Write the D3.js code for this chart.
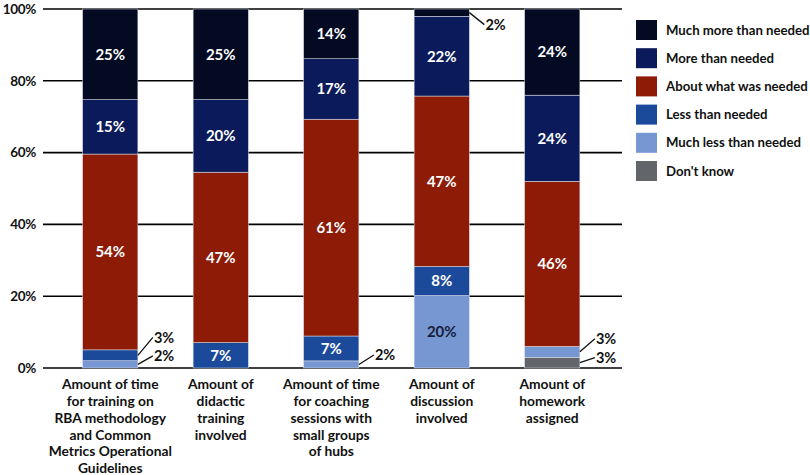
<!DOCTYPE html>
<html><head><meta charset="utf-8">
<script src="https://cdn.jsdelivr.net/npm/d3@7"></script>
<style>
body{margin:0;background:#fff;}
svg{display:block;font-family:Lato,"Open Sans",sans-serif;font-weight:700;}
</style></head>
<body>
<svg id="c" width="810" height="475"></svg>
<script>
const categories = ["time","didactic","coaching","discussion","homework"];
const categoryLabels = [
  ["Amount of time","for training on","RBA methodology","and Common","Metrics Operational","Guidelines"],
  ["Amount of","didactic","training","involved"],
  ["Amount of time","for coaching","sessions with","small groups","of hubs"],
  ["Amount of","discussion","involved"],
  ["Amount of","homework","assigned"]
];
const seriesNames = ["Don't know","Much less than needed","Less than needed","About what was needed","More than needed","Much more than needed"];
const dontKnow   = [0, 0, 0, 0, 3];
const muchLess   = [2, 0, 2, 20, 3];
const less       = [3, 7, 7, 8, 0];
const about      = [54, 47, 61, 47, 46];
const more       = [15, 20, 17, 22, 24];
const muchMore   = [25, 25, 14, 2, 24];
const yTicks = [0, 0.2, 0.4, 0.6, 0.8, 1];
const legendOrder = ["Much more than needed","More than needed","About what was needed","Less than needed","Much less than needed","Don't know"];

const colors = {
  "Don't know":"#626569",
  "Much less than needed":"#7797d2",
  "Less than needed":"#1c4a9b",
  "About what was needed":"#8d1b06",
  "More than needed":"#0b1a5a",
  "Much more than needed":"#040a22"
};
const textColors = {
  "Much less than needed":"#161d3a"
};

const seriesValues = [dontKnow, muchLess, less, about, more, muchMore];
const table = categories.map((c,i)=>{
  const o = {cat:c};
  seriesNames.forEach((s,j)=>o[s]=seriesValues[j][i]);
  return o;
});

const svg = d3.select("#c");
const x = d3.scaleBand().domain(categories).range([55, 607.5]).paddingInner(0.5).paddingOuter(0.25);
const y = d3.scaleLinear().domain([0,1]).range([368, 9]);

// gridlines
svg.append("g").selectAll("line").data(yTicks).join("line")
  .attr("x1",43).attr("x2",622)
  .attr("y1",d=>y(d)).attr("y2",d=>y(d))
  .attr("stroke","#000").attr("stroke-width",1.6);

// tick labels
svg.append("g").selectAll("text").data(yTicks).join("text")
  .attr("x",36).attr("y",d=>y(d)).attr("dy","0.35em")
  .attr("text-anchor","end").attr("font-size",13.5).attr("fill","#111")
  .attr("letter-spacing",-0.3)
  .text(d=>d3.format(".0%")(d));

const stack = d3.stack().keys(seriesNames).offset(d3.stackOffsetExpand);
const layers = stack(table);

const g = svg.append("g");
layers.forEach(layer=>{
  const key = layer.key;
  g.selectAll(null).data(layer.filter(d=>d[1]-d[0]>0)).join("rect")
    .attr("x",d=>x(d.data.cat))
    .attr("width",x.bandwidth())
    .attr("y",d=>y(d[1]))
    .attr("height",d=>y(d[0])-y(d[1]))
    .attr("fill",colors[key])
    .attr("stroke","#dfe4ee").attr("stroke-width",0.5);
});

// outside label offsets (style only)
const outsideOffset = {
  "time|Less than needed": -18,
  "time|Much less than needed": -8.5,
  "coaching|Much less than needed": -9.5,
  "discussion|Much more than needed": 12,
  "homework|Much less than needed": -13,
  "homework|Don't know": -5
};

layers.forEach(layer=>{
  const key = layer.key;
  layer.forEach(d=>{
    const v = d.data[key];
    if(!v) return;
    const cx = x(d.data.cat) + x.bandwidth()/2;
    const my = (y(d[0])+y(d[1]))/2;
    if(v >= 7){
      svg.append("text").attr("x",cx).attr("y",my).attr("dy","0.36em")
        .attr("text-anchor","middle").attr("font-size",15)
        .attr("fill",textColors[key]||"#fff")
        .text(v+"%");
    } else {
      const off = outsideOffset[d.data.cat+"|"+key] || 0;
      const x0 = x(d.data.cat)+x.bandwidth();
      const ty = my + off;
      svg.append("line").attr("x1",x0).attr("y1",my).attr("x2",x0+15).attr("y2",ty)
        .attr("stroke","#111").attr("stroke-width",1.3);
      svg.append("text").attr("x",x0+16).attr("y",ty).attr("dy","0.36em")
        .attr("font-size",14.5).attr("fill","#111").text(v+"%");
    }
  });
});

// category labels
const cl = svg.append("g");
categories.forEach((c,i)=>{
  const t = cl.append("text").attr("text-anchor","middle").attr("font-size",13.8).attr("fill","#111");
  categoryLabels[i].forEach((line,k)=>{
    t.append("tspan").attr("x",x(c)+x.bandwidth()/2).attr("y",384+k*16.9).attr("dy","0.35em").text(line);
  });
});

// legend
const lg = svg.append("g");
legendOrder.forEach((s,i)=>{
  const yy = 20 + i*28.2;
  lg.append("rect").attr("x",636).attr("y",yy).attr("width",21).attr("height",20).attr("fill",colors[s]);
  lg.append("text").attr("x",666).attr("y",yy+10).attr("dy","0.35em").attr("font-size",13.2).attr("fill","#111").text(s);
});
</script>
</body></html>
